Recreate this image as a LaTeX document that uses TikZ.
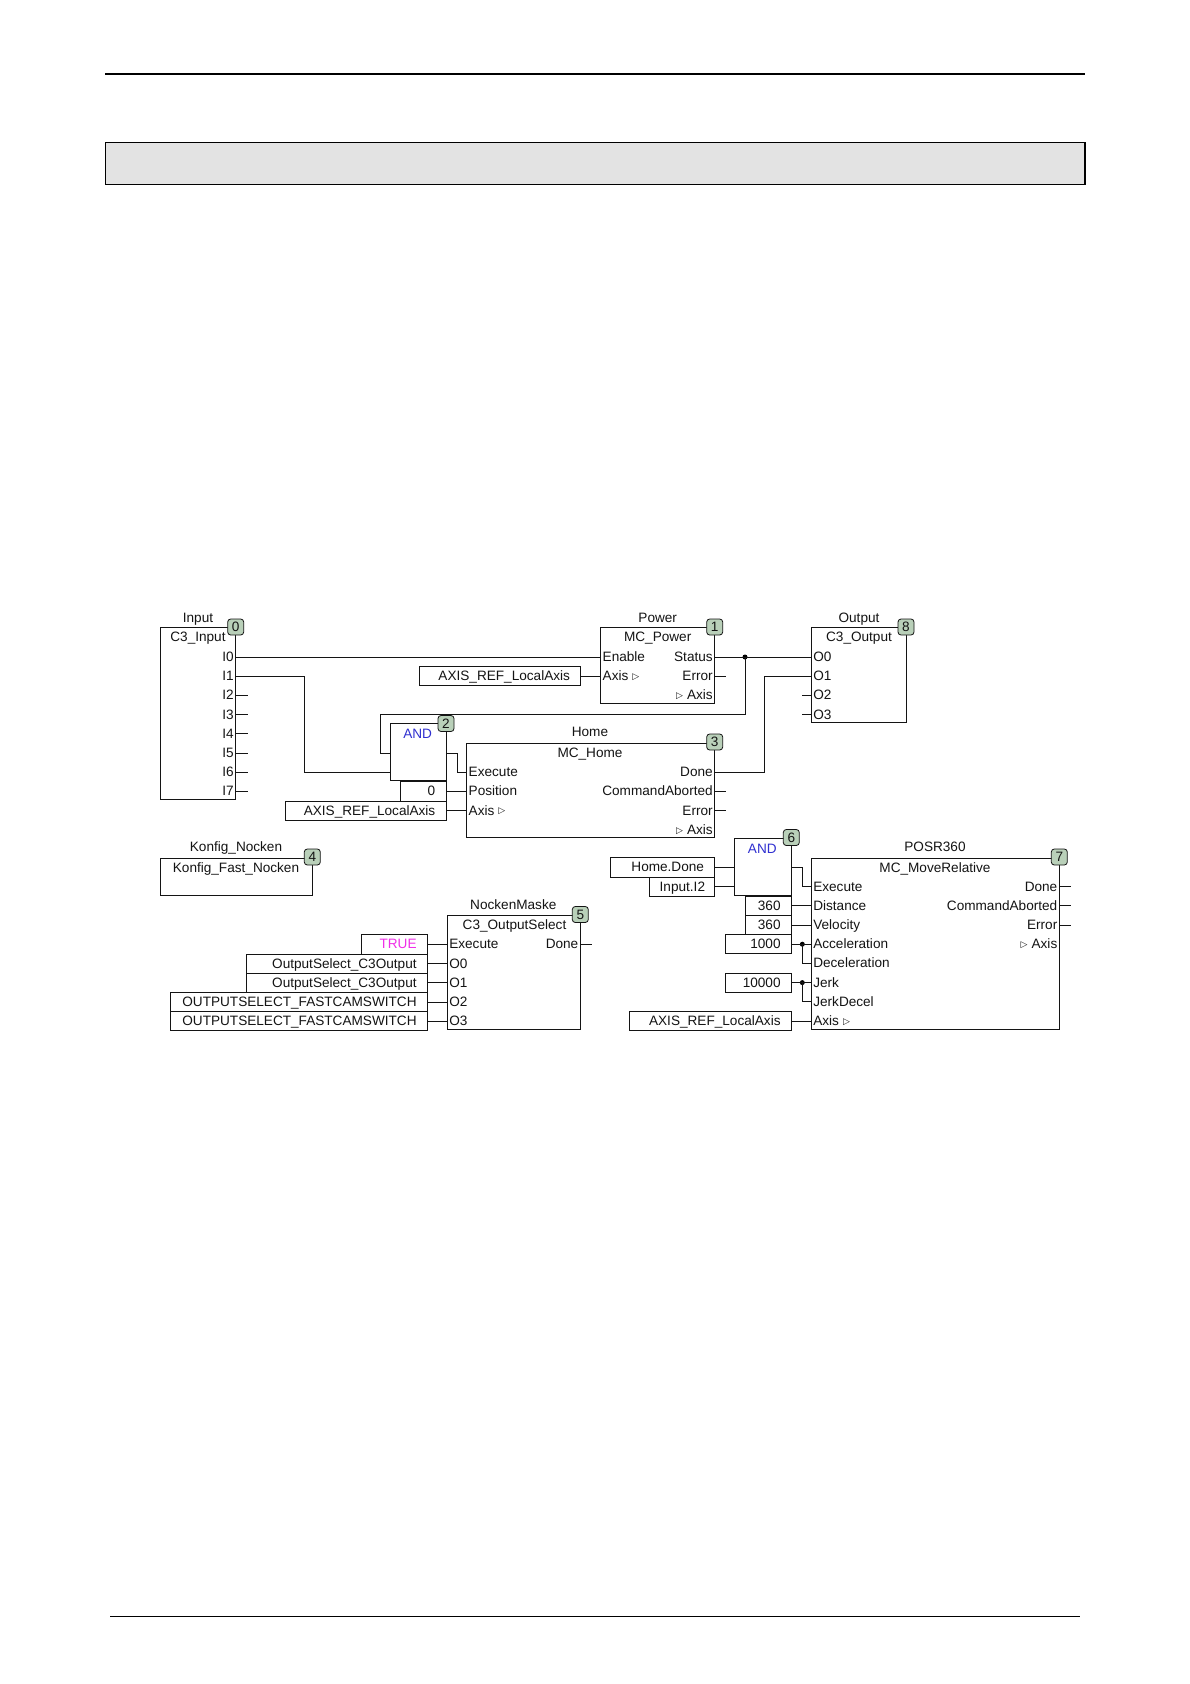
\documentclass[tikz,border=0pt]{standalone}
\usepackage{fontspec}
\setmainfont{Liberation Sans}
\newfontfamily\dejavu{DejaVu Sans}
\newcommand{\tri}{\raisebox{1.2pt}{\dejavu\fontsize{9}{9}\selectfont ▷}}
\definecolor{inkgrey}{HTML}{141414}
\definecolor{badgegreen}{HTML}{B9D0B9}
\definecolor{headgrey}{HTML}{E3E3E3}
\definecolor{andblue}{HTML}{3030D0}
\definecolor{truepink}{HTML}{F030E8}
\tikzset{
  every node/.style={outer sep=0pt, text=inkgrey, font=\fontsize{13.6}{15}\selectfont},
  fblock/.style={draw=inkgrey, line width=.9pt, anchor=north west, inner sep=0pt},
  blocktext/.style={inner sep=0pt, text height=9.5pt, text depth=0pt},
  pinleft/.style={anchor=west, inner xsep=2pt, inner ysep=0pt, text height=8.8pt, text depth=0pt},
  pinright/.style={anchor=east, inner xsep=2pt, inner ysep=0pt, text height=8.8pt, text depth=0pt},
  constbox/.style={draw=inkgrey, line width=.9pt, anchor=east, inner xsep=10.7pt, inner ysep=0pt, minimum height=19.2pt, text width={(#1pt-21.4pt)}, align=right, text height=8.8pt, text depth=0pt},
  badge/.style={draw=inkgrey, line width=.8pt, fill=badgegreen, rounded corners=3pt, minimum size=16pt, inner sep=0pt},
  junction/.style={circle, fill=black, minimum size=5pt, inner sep=0pt},
  wire/.style={draw=inkgrey, line width=.9pt},
}
\begin{document}
\begin{tikzpicture}[x=1pt,y=-1pt]
\useasboundingbox (0,0) rectangle (1190,1684);
\fill[white] (0,0) rectangle (1190,1684);
\node[minimum width=980pt, minimum height=2.4pt, inner sep=0pt, fill=black, anchor=north west] (headline) at (105,72.8) {};
\node[draw=black, line width=1.3pt, fill=headgrey, minimum width=979.5pt, minimum height=42pt, inner sep=0pt, anchor=north west] (headbox) at (105.5,142.3) {};
\draw[black, line width=2.2pt] (headbox.north east) -- (headbox.south east);
\node[minimum width=970pt, minimum height=1.5pt, inner sep=0pt, fill=black, anchor=north west] (footline) at (110,1615.6) {};

\node[fblock, minimum width=75.7pt, minimum height=171.6pt] (input) at (160,627.7) {};
\node[blocktext] (inputname) at (198,617.5) {Input};
\node[blocktext] (inputtype) at (198,637) {C3\_Input};
\node[pinright] (inputi0) at (235.7,657) {I0};
\node[pinright] (inputi1) at (235.7,676.2) {I1};
\node[pinright] (inputi2) at (235.7,695.4) {I2};
\node[pinright] (inputi3) at (235.7,714.6) {I3};
\node[pinright] (inputi4) at (235.7,733.8) {I4};
\node[pinright] (inputi5) at (235.7,753) {I5};
\node[pinright] (inputi6) at (235.7,772.2) {I6};
\node[pinright] (inputi7) at (235.7,791.4) {I7};

\node[fblock, minimum width=114pt, minimum height=75.6pt] (power) at (600.7,627.7) {};
\node[blocktext] (powername) at (657.7,617.5) {Power};
\node[blocktext] (powertype) at (657.7,637) {MC\_Power};
\node[pinleft] (powerenable) at (600.7,657) {Enable};
\node[pinleft] (poweraxis) at (600.7,676.2) {Axis\hspace{4pt}\tri};
\node[pinright] (powerstatus) at (714.7,657) {Status};
\node[pinright] (powererror) at (714.7,676.2) {Error};
\node[pinright] (poweraxisout) at (714.7,695.4) {\tri\hspace{4pt}Axis};
\node[constbox=161.7] (powerref) at (580.7,676.2) {AXIS\_REF\_LocalAxis};

\node[fblock, minimum width=94.7pt, minimum height=94.6pt] (output) at (811.3,627.7) {};
\node[blocktext] (outputname) at (859,617.5) {Output};
\node[blocktext] (outputtype) at (859,637) {C3\_Output};
\node[pinleft] (outputo0) at (811.3,657) {O0};
\node[pinleft] (outputo1) at (811.3,676.2) {O1};
\node[pinleft] (outputo2) at (811.3,695.4) {O2};
\node[pinleft] (outputo3) at (811.3,714.6) {O3};

\node[fblock, minimum width=56pt, minimum height=56.3pt] (andhome) at (390,723.7) {};
\node[blocktext, text=andblue] (andhometext) at (417.7,733.5) {AND};
\coordinate (andhomein0) at (390,753);
\coordinate (andhomein1) at (390,772.2);
\coordinate (andhomeout) at (446,753);

\node[fblock, minimum width=248pt, minimum height=94.7pt] (home) at (466.7,743) {};
\node[blocktext] (homename) at (590,732) {Home};
\node[blocktext] (hometype) at (590,752.3) {MC\_Home};
\node[pinleft] (homeexecute) at (466.7,772.2) {Execute};
\node[pinleft] (homeposition) at (466.7,791.4) {Position};
\node[pinleft] (homeaxis) at (466.7,810.6) {Axis\hspace{4pt}\tri};
\node[pinright] (homedone) at (714.7,772.2) {Done};
\node[pinright] (homeaborted) at (714.7,791.4) {CommandAborted};
\node[pinright] (homeerror) at (714.7,810.6) {Error};
\node[pinright] (homeaxisout) at (714.7,829.8) {\tri\hspace{4pt}Axis};
\node[constbox=46] (homepos) at (446,791.4) {0};
\node[constbox=161] (homeref) at (446,810.6) {AXIS\_REF\_LocalAxis};

\node[fblock, minimum width=152.3pt, minimum height=37pt] (konfig) at (160,858) {};
\node[blocktext] (konfigname) at (236,847) {Konfig\_Nocken};
\node[blocktext] (konfigtype) at (236,867.7) {Konfig\_Fast\_Nocken};

\node[fblock, minimum width=133pt, minimum height=114pt] (maske) at (447.3,915.3) {};
\node[blocktext] (maskename) at (513.3,905) {NockenMaske};
\node[blocktext] (masketype) at (514.5,925) {C3\_OutputSelect};
\node[pinleft] (maskeexecute) at (447.3,944.4) {Execute};
\node[pinleft] (maskeo0) at (447.3,963.6) {O0};
\node[pinleft] (maskeo1) at (447.3,982.8) {O1};
\node[pinleft] (maskeo2) at (447.3,1002) {O2};
\node[pinleft] (maskeo3) at (447.3,1021.2) {O3};
\node[pinright] (maskedone) at (580.3,944.4) {Done};
\node[constbox=65.6, text=truepink] (masketrue) at (427.3,944.4) {TRUE};
\node[constbox=180.6] (maskesel0) at (427.3,963.6) {OutputSelect\_C3Output};
\node[constbox=180.6] (maskesel1) at (427.3,982.8) {OutputSelect\_C3Output};
\node[constbox=257.3] (maskefast0) at (427.3,1002) {OUTPUTSELECT\_FASTCAMSWITCH};
\node[constbox=257.3] (maskefast1) at (427.3,1021.2) {OUTPUTSELECT\_FASTCAMSWITCH};

\node[fblock, minimum width=56.6pt, minimum height=56.6pt] (andmove) at (734.7,838.7) {};
\node[blocktext, text=andblue] (andmovetext) at (762.3,848.5) {AND};
\coordinate (andmovein0) at (734.7,867.4);
\coordinate (andmovein1) at (734.7,886.6);
\coordinate (andmoveout) at (791.3,867.4);
\node[constbox=104] (movehome) at (714.7,867.4) {Home.Done};
\node[constbox=65.7] (moveinput) at (714.7,886.6) {Input.I2};

\node[fblock, minimum width=248pt, minimum height=171.3pt] (move) at (811.3,858) {};
\node[blocktext] (movename) at (935,847) {POSR360};
\node[blocktext] (movetype) at (935,867.3) {MC\_MoveRelative};
\node[pinleft] (moveexecute) at (811.3,886.6) {Execute};
\node[pinleft] (movedistance) at (811.3,905.8) {Distance};
\node[pinleft] (movevelocity) at (811.3,925) {Velocity};
\node[pinleft] (moveaccel) at (811.3,944.2) {Acceleration};
\node[pinleft] (movedecel) at (811.3,963.4) {Deceleration};
\node[pinleft] (movejerk) at (811.3,982.6) {Jerk};
\node[pinleft] (movejerkdecel) at (811.3,1001.8) {JerkDecel};
\node[pinleft] (moveaxis) at (811.3,1021) {Axis\hspace{4pt}\tri};
\node[pinright] (movedone) at (1059.3,886.6) {Done};
\node[pinright] (moveaborted) at (1059.3,905.8) {CommandAborted};
\node[pinright] (moveerror) at (1059.3,925) {Error};
\node[pinright] (moveaxisout) at (1059.3,944.2) {\tri\hspace{4pt}Axis};
\node[constbox=46.3] (movedist) at (791.3,905.8) {360};
\node[constbox=46.3] (movevelo) at (791.3,925) {360};
\node[constbox=65.6] (moveacc) at (791.3,944.2) {1000};
\node[constbox=65.6] (movejrk) at (791.3,982.6) {10000};
\node[constbox=161.6] (moveref) at (791.3,1021) {AXIS\_REF\_LocalAxis};

\node[junction] (powerdot) at (745,657) {};
\node[junction] (accdot) at (802.3,944.2) {};
\node[junction] (jerkdot) at (802.3,982.6) {};

\draw[wire] (inputi0.east) -- (powerenable.west);
\draw[wire] (inputi1.east) -- (304.3,676.2) -- (304.3,772.2) -- (andhomein1);
\draw[wire] (inputi2.east) -- ++(12,0);
\draw[wire] (inputi3.east) -- ++(12,0);
\draw[wire] (inputi4.east) -- ++(12,0);
\draw[wire] (inputi5.east) -- ++(12,0);
\draw[wire] (inputi6.east) -- ++(12,0);
\draw[wire] (inputi7.east) -- ++(12,0);
\draw[wire] (powerref.east) -- (poweraxis.west);
\draw[wire] (powerstatus.east) -- (outputo0.west);
\draw[wire] (powererror.east) -- ++(11.5,0);
\draw[wire] (powerdot.center) -- (745,714.7) -- (380.7,714.7) -- (380.7,753) -- (andhomein0);
\draw[wire] (andhomeout) -- (457.7,753) -- (457.7,772.2) -- (homeexecute.west);
\draw[wire] (homepos.east) -- (homeposition.west);
\draw[wire] (homeref.east) -- (homeaxis.west);
\draw[wire] (homedone.east) -- (764,772.2) -- (764,676.2) -- (outputo1.west);
\draw[wire] (homeaborted.east) -- ++(11.5,0);
\draw[wire] (homeerror.east) -- ++(11.5,0);
\draw[wire] (outputo2.west) -- ++(-9,0);
\draw[wire] (outputo3.west) -- ++(-9,0);
\draw[wire] (masketrue.east) -- (maskeexecute.west);
\draw[wire] (maskesel0.east) -- (maskeo0.west);
\draw[wire] (maskesel1.east) -- (maskeo1.west);
\draw[wire] (maskefast0.east) -- (maskeo2.west);
\draw[wire] (maskefast1.east) -- (maskeo3.west);
\draw[wire] (maskedone.east) -- ++(11.7,0);
\draw[wire] (movehome.east) -- (andmovein0);
\draw[wire] (moveinput.east) -- (andmovein1);
\draw[wire] (andmoveout) -- (802.3,867.4) -- (802.3,886.6) -- (moveexecute.west);
\draw[wire] (movedist.east) -- (movedistance.west);
\draw[wire] (movevelo.east) -- (movevelocity.west);
\draw[wire] (moveacc.east) -- (moveaccel.west);
\draw[wire] (accdot.center) -- (802.3,963.4) -- (movedecel.west);
\draw[wire] (movejrk.east) -- (movejerk.west);
\draw[wire] (jerkdot.center) -- (802.3,1001.8) -- (movejerkdecel.west);
\draw[wire] (moveref.east) -- (moveaxis.west);
\draw[wire] (movedone.east) -- ++(12,0);
\draw[wire] (moveaborted.east) -- ++(12,0);
\draw[wire] (moveerror.east) -- ++(12,0);

\node[badge] (badge0) at (235.7,627) {0};
\node[badge] (badge1) at (714.7,627) {1};
\node[badge] (badge2) at (446,723.5) {2};
\node[badge] (badge3) at (714.7,742) {3};
\node[badge] (badge4) at (312.3,857) {4};
\node[badge] (badge5) at (580.3,914.5) {5};
\node[badge] (badge6) at (791.3,837.5) {6};
\node[badge] (badge7) at (1059.3,857) {7};
\node[badge] (badge8) at (906,627) {8};
\end{tikzpicture}
\end{document}
